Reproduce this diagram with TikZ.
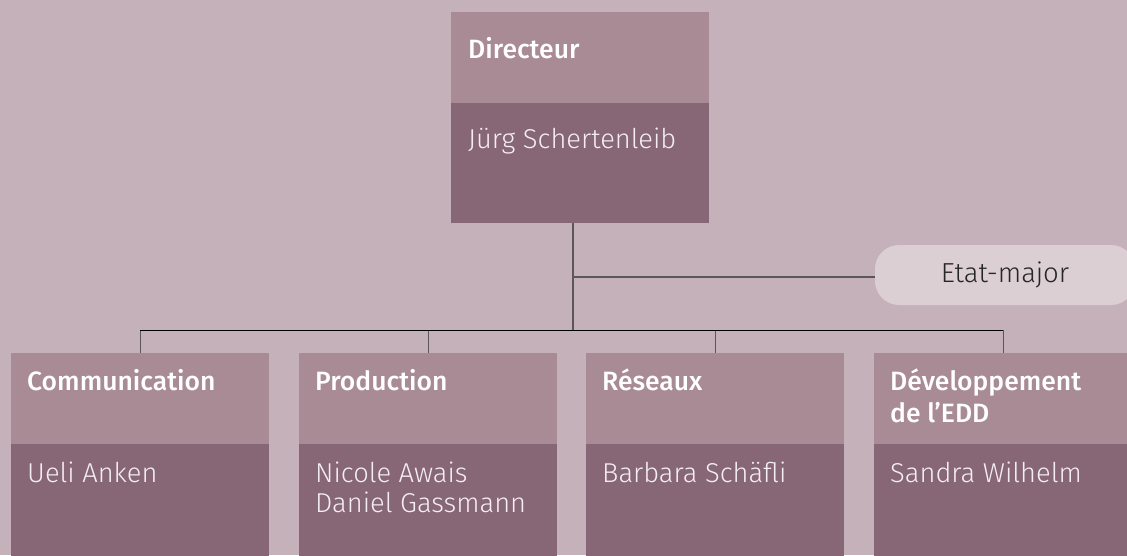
\documentclass[tikz,border=0pt]{standalone}
\usepackage{fontspec}
\setmainfont{Fira Sans}[UprightFont=* Light, BoldFont=* Medium]
\usetikzlibrary{positioning}

\definecolor{bgmauve}{HTML}{C5B1BA}
\definecolor{headmauve}{HTML}{A98B96}
\definecolor{bodymauve}{HTML}{876675}
\definecolor{pillmauve}{HTML}{DCCFD4}
\definecolor{linegrey}{HTML}{5C565B}
\definecolor{namewhite}{HTML}{F4EEF1}

\tikzstyle{head} = [fill=headmauve, inner sep=0pt, minimum width=258pt, minimum height=91pt, anchor=north west]
\tikzstyle{body} = [fill=bodymauve, inner sep=0pt, minimum width=258pt, minimum height=120pt, anchor=north west]
\tikzstyle{headtext} = [text=white, font=\fontsize{26.5}{32}\selectfont\bfseries, align=left, inner sep=0pt, anchor=north west]
\tikzstyle{nametext} = [text=namewhite, font=\fontsize{27.3}{30}\selectfont, align=left, inner sep=0pt, anchor=north west]
\tikzstyle{pill} = [fill=pillmauve, rounded corners=24pt, minimum width=260pt, minimum height=60pt, inner sep=0pt, font=\fontsize{27.5}{30}\selectfont, text=black!85]
\tikzstyle{trunk} = [linegrey, line width=1.3pt]
\tikzstyle{bus} = [black, line width=0.9pt]

\begin{document}
\begin{tikzpicture}[x=1pt, y=-1pt]
	\useasboundingbox (0,0) rectangle (1127,555);
	\clip (0,0) rectangle (1127,555);
	\fill[bgmauve] (0,0) rectangle (1127,555);

	% director
	\node[head] (dirhead) at (451,12) {};
	\node[body] (dirbody) at (451,103) {};
	\node[headtext, below right=23.6pt and 17pt of dirhead.north west, anchor=north west] (dirtitle) {\strut Directeur};
	\node[nametext, below right=24pt and 17pt of dirbody.north west, anchor=north west] (dirname) {\strut Jürg Schertenleib};

	% staff
	\node[pill] (etat) at (1005,275) {Etat-major};
	\coordinate (hub) at (573,330);
	\coordinate (knot) at (573,277);
	\draw[trunk] (dirbody.south -| hub) -- (hub);
	\draw[trunk] (knot) -- (etat.west |- knot);

	% departments
	\foreach \i/\x/\title/\name in {1/11/Communication/Ueli Anken,
			2/299/Production/{Nicole Awais\\Daniel Gassmann},
			3/586/Réseaux/Barbara Schäfli,
			4/874/{Développement\\de l’EDD}/Sandra Wilhelm} {
		\node[head] (head\i) at (\x,353) {};
		\node[body] (body\i) at (\x,444) {};
		\node[headtext, below right=14.6pt and 16pt of head\i.north west, anchor=north west] (title\i) {\strut\title};
		\node[nametext, below right=17pt and 16pt of body\i.north west, anchor=north west] (name\i) {\strut\name};
		\draw[trunk, line width=1pt] (head\i.north) -- (head\i.north |- hub);
	}
	\draw[bus] (head1.north |- hub) -- (head4.north |- hub);
\end{tikzpicture}
\end{document}
